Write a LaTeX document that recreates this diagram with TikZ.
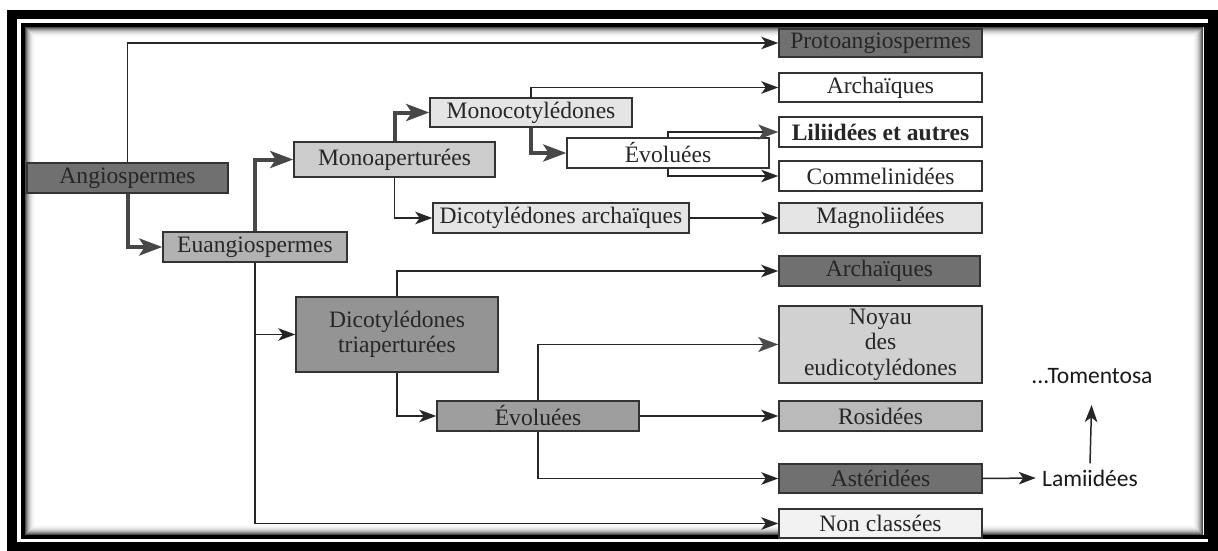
\documentclass[tikz,border=0pt]{standalone}
\usepackage{fontspec}
\setmainfont{Liberation Serif}
\newfontfamily\sansf{Carlito}
\usetikzlibrary{arrows.meta}
\begin{document}
\begin{tikzpicture}[x=0.02cm,y=-0.02cm,
  box/.style={draw=black!80, line width=0.03cm, inner sep=0pt, align=center,
    font=\fontsize{13.4}{14.5}\selectfont, text=black!85},
  sz/.style 2 args={minimum width=#1*0.02cm, minimum height=#2*0.02cm},
  thinar/.style={draw=black!85, line width=0.03cm, -{Stealth[length=0.34cm,width=0.25cm,inset=0.09cm]}},
  thickar/.style={draw=black!72, line width=0.08cm, -{Stealth[length=0.46cm,width=0.34cm,inset=0.11cm]}},
  grayhead/.style={draw=black!85, line width=0.03cm, -{Stealth[length=0.4cm,width=0.3cm,inset=0.1cm,color=black!70]}},
  lbl/.style={font=\sansf\fontsize{13.4}{15}\selectfont, text=black!90, inner sep=0.12cm},
]
\useasboundingbox[fill=white] (0,0) rectangle (1218,551);
% frame
\draw[line width=0.2cm] (12,14.5) rectangle (1213,546.5);
\foreach \i/\c in {0/70,1/55,2/42,3/31,4/22,5/15,6/10,7/6,8/3,9/1}
  \draw[black!\c, line width=0.021cm] ({25.5+\i},{27.5+\i}) rectangle ({1202.5-\i},{534.5-\i});
\draw[line width=0.08cm] (23,25) rectangle (1205.5,536.5);

% nodes
\node[box, sz={201}{30}, fill=black!56] (ang) at (127.5,178) {Angiospermes};
\node[box, sz={203}{28}, fill=black!56] (proto) at (880.5,43) {Protoangiospermes};
\node[box, sz={184}{30}, fill=black!30] (euang) at (255,247) {Euangiospermes};
\node[box, sz={201}{35}, fill=black!20] (monoap) at (394.5,159.5) {Monoaperturées};
\node[box, sz={202}{29}, fill=black!10] (monocot) at (531,112.5) {Monocotylédones};
\node[box, sz={202}{30}, fill=white] (evomono) at (668,153) {Évoluées};
\node[box, sz={256}{30}, fill=black!10] (dicarch) at (561,218) {Dicotylédones archaïques};
\node[box, sz={203}{29}, fill=white] (arch1) at (880.5,87.5) {Archaïques};
\node[box, sz={203}{30}, fill=white, font=\bfseries\fontsize{13.4}{14.5}\selectfont] (lili) at (880.5,132) {Liliidées et autres};
\node[box, sz={203}{30}, fill=white] (comm) at (880.5,176) {Commelinidées};
\node[box, sz={203}{30}, fill=black!10] (magn) at (880.5,218) {Magnoliidées};
\node[box, sz={201}{30}, fill=black!56] (arch2) at (879.5,271) {Archaïques};
\node[box, sz={203}{77}, fill=black!18] (noyau) at (880.5,344.5) {Noyau\\des\\eudicotylédones};
\node[box, sz={203}{30}, fill=black!27] (ros) at (880.5,416) {Rosidées};
\node[box, sz={203}{29}, fill=black!56] (ast) at (880.5,478.5) {Astéridées};
\node[box, sz={203}{29}, fill=black!5] (noncl) at (880.5,523.5) {Non classées};
\node[box, sz={202}{75}, fill=black!42] (dicotri) at (397,334.5) {Dicotylédones\\triaperturées};
\node[box, sz={202}{30}, fill=black!38] (evodi) at (538,416) {Évoluées};
\node[lbl] (lami) at (1090,478) {Lamiidées};
\node[lbl] (tomen) at (1092,376) {...Tomentosa};

% connectors
\draw[thinar] (ang.north) |- (proto.west);
\draw[thickar] (ang.south) |- (euang.west);
\draw[thickar] (euang.north) |- (monoap.west);
\draw[thickar] (monoap.north) |- (monocot.west);
\draw[thinar] (monoap.south) |- (dicarch.west);
\draw[thinar] (monocot.north) |- (arch1.west);
\draw[thickar] (monocot.south) |- (evomono.west);
\draw[grayhead] (evomono.north) |- (lili.west);
\draw[thinar] (evomono.south) |- (comm.west);
\draw[thinar] (dicarch.east) -- (magn.west);
\draw[thinar] (euang.south) |- (noncl.west);
\draw[thinar] (euang.south) |- (dicotri.west);
\draw[thinar] (dicotri.north) |- (arch2.west);
\draw[thinar] (dicotri.south) |- (evodi.west);
\draw[grayhead, draw=black!85] (evodi.north) |- (noyau.west);
\draw[thinar] (evodi.east) -- (ros.west);
\draw[thinar] (evodi.south) |- (ast.west);
\draw[thinar] (ast.east) -- (lami.west);
\draw[thinar, shorten >=0.3cm] (lami.north) -- (tomen.south);
\end{tikzpicture}
\end{document}
